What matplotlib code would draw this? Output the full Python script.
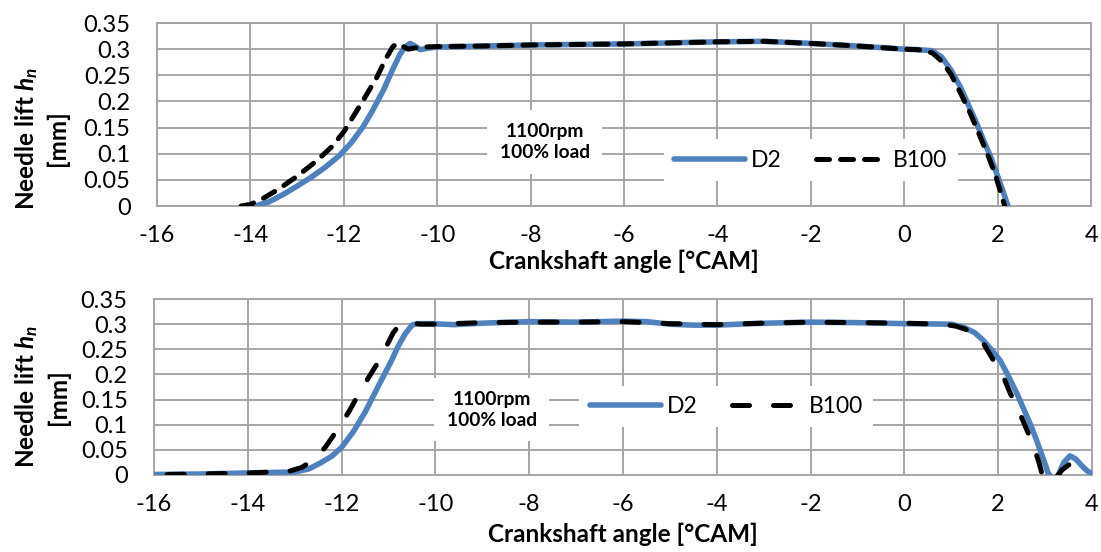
import matplotlib.pyplot as plt

plt.rcParams['font.family'] = ['Lato', 'DejaVu Sans']
plt.rcParams['mathtext.fontset'] = 'custom'
plt.rcParams['mathtext.it'] = 'Lato:bold:italic'
plt.rcParams['mathtext.rm'] = 'Lato:bold'

# --- data ---
# upper chart
top_d2_x = [-13.9, -13.6, -13.3, -13.0, -12.7, -12.4, -12.1, -11.85, -11.6, -11.4, -11.15,
            -10.95, -10.8, -10.68, -10.58, -10.48, -10.36, -10.2, -10.0, -9.0, -8.0, -7.0,
            -6.0, -5.0, -4.0, -3.0, -2.0, -1.0, -0.5, 0.0, 0.3, 0.6, 0.8, 1.0, 1.2, 1.36,
            1.55, 1.7, 1.85, 1.98, 2.1, 2.22]
top_d2_y = [0.0, 0.008, 0.022, 0.038, 0.055, 0.074, 0.096, 0.12, 0.15, 0.18, 0.222,
            0.262, 0.29, 0.305, 0.311, 0.306, 0.299, 0.302, 0.304, 0.306, 0.308, 0.309,
            0.310, 0.312, 0.314, 0.315, 0.311, 0.306, 0.303, 0.300, 0.299, 0.297, 0.285,
            0.26, 0.228, 0.196, 0.158, 0.125, 0.094, 0.062, 0.032, 0.0]
top_b100_x = [-14.2, -14.0, -13.7, -13.4, -13.0, -12.6, -12.25, -12.0, -11.6, -11.3, -11.1,
              -10.95, -10.85, -10.75, -10.62, -10.5, -10.3, -10.0, -9.0, -8.0, -7.0, -6.0,
              -5.0, -4.0, -3.0, -2.0, -1.0, -0.5, 0.0, 0.3, 0.6, 0.8, 1.0, 1.2, 1.4, 1.6,
              1.8, 1.95, 2.05, 2.15]
top_b100_y = [0.0, 0.003, 0.016, 0.032, 0.057, 0.085, 0.114, 0.142, 0.2, 0.245, 0.282,
              0.305, 0.311, 0.306, 0.300, 0.302, 0.304, 0.305, 0.306, 0.308, 0.309, 0.310,
              0.312, 0.314, 0.315, 0.311, 0.306, 0.303, 0.300, 0.299, 0.293, 0.277, 0.252,
              0.217, 0.18, 0.138, 0.095, 0.06, 0.03, 0.0]

# lower chart
bot_d2_x = [-16.0, -15.0, -14.0, -13.5, -13.0, -12.7, -12.45, -12.2, -12.0, -11.75, -11.5,
            -11.2, -10.95, -10.8, -10.65, -10.5, -10.4, -10.1, -9.6, -9.0, -8.0, -7.0,
            -6.0, -5.5, -5.0, -4.5, -4.0, -3.3, -2.5, -2.0, -1.0, 0.0, 1.0, 1.26, 1.5,
            1.68, 1.85, 2.04, 2.2, 2.4, 2.55, 2.68, 2.8, 2.9, 3.0, 3.06, 3.17, 3.28, 3.4,
            3.53, 3.65, 3.81, 3.9, 4.0]
bot_d2_y = [0.001, 0.002, 0.004, 0.005, 0.006, 0.012, 0.024, 0.038, 0.055, 0.086, 0.125,
            0.18, 0.225, 0.255, 0.28, 0.298, 0.301, 0.301, 0.299, 0.302, 0.305, 0.304,
            0.306, 0.305, 0.300, 0.298, 0.298, 0.301, 0.303, 0.304, 0.303, 0.301, 0.300,
            0.294, 0.283, 0.268, 0.25, 0.228, 0.2, 0.162, 0.13, 0.102, 0.074, 0.048,
            0.022, 0.005, -0.01, 0.0, 0.025, 0.038, 0.032, 0.016, 0.008, 0.003]
bot_b100_x = [-15.72, -15.0, -14.0, -13.5, -13.1, -12.85, -12.6, -12.35, -12.09, -11.85,
              -11.66, -11.45, -11.23, -11.05, -10.9, -10.78, -10.68, -10.55, -10.3, -10.0,
              -9.0, -8.0, -7.0, -6.0, -5.0, -4.0, -3.0, -2.0, -1.0, 0.0, 0.8, 1.1, 1.3,
              1.62, 1.9, 2.1, 2.26, 2.45, 2.62, 2.79, 2.87, 2.94, 3.05, 3.2, 3.36, 3.53,
              3.62, 3.72]
bot_b100_y = [0.001, 0.002, 0.004, 0.006, 0.008, 0.015, 0.03, 0.055, 0.09, 0.125, 0.157,
              0.19, 0.223, 0.255, 0.283, 0.297, 0.303, 0.302, 0.300, 0.300, 0.303, 0.304,
              0.304, 0.305, 0.301, 0.299, 0.302, 0.304, 0.303, 0.302, 0.300, 0.296, 0.29,
              0.272, 0.228, 0.198, 0.162, 0.125, 0.088, 0.048, 0.025, 0.0, -0.015, -0.01,
              0.01, 0.022, 0.015, 0.0]

x_ticks = [-16, -14, -12, -10, -8, -6, -4, -2, 0, 2, 4]
y_ticks = [0, 0.05, 0.1, 0.15, 0.2, 0.25, 0.3, 0.35]
y_labels = ['0', '0.05', '0.1', '0.15', '0.2', '0.25', '0.3', '0.35']

BLUE = '#4F81BD'
GRID = '#A6A6A6'

fig = plt.figure(figsize=(11.01, 5.52), dpi=100)
ax1 = fig.add_axes([0.1426, 0.6268, 0.8484, 0.3315])
ax2 = fig.add_axes([0.1399, 0.1395, 0.8519, 0.3188])

# ax, series, dash pattern, text box pos, legend pos, ylabel pos, xlabel y
setups = [
    (ax1, top_d2_x, top_d2_y, top_b100_x, top_b100_y, (2.6, 2.2),
     (0.415, 0.35), (0.70, 0.25), (-0.094, 0.37), -0.24),
    (ax2, bot_d2_x, bot_d2_y, bot_b100_x, bot_b100_y, (3.4, 4.8),
     (0.36, 0.37), (0.61, 0.39), (-0.090, 0.443), -0.27),
]

for ax, dx, dy, bx, by, dash, txt_pos, leg_pos, ylab_pos, xlab_y in setups:
    ax.plot(dx, dy, color=BLUE, lw=4.0, solid_capstyle='round', label='D2', zorder=3)
    ax.plot(bx, by, color='black', lw=3.6, dashes=dash, dash_capstyle='round',
            label='B100', zorder=4)
    ax.set_xlim(-16, 4)
    ax.set_ylim(0, 0.35)
    ax.set_xticks(x_ticks)
    ax.set_xticklabels([str(t) for t in x_ticks])
    ax.set_yticks(y_ticks)
    ax.set_yticklabels(y_labels)
    ax.tick_params(axis='x', length=0, labelsize=17, pad=14)
    ax.tick_params(axis='y', length=0, labelsize=17, pad=19)
    ax.grid(True, color=GRID, lw=1.4, zorder=0)
    ax.set_axisbelow(True)
    for s in ax.spines.values():
        s.set_color(GRID)
        s.set_linewidth(1.4)
    ax.set_xlabel('Crankshaft angle [°CAM]', fontsize=17.5, fontweight='bold')
    ax.xaxis.set_label_coords(0.5, xlab_y)
    ax.set_ylabel('Needle lift $h_n$\n[mm]', fontsize=17.5, fontweight='bold',
                  linespacing=1.3)
    ax.yaxis.set_label_coords(*ylab_pos)
    ax.text(txt_pos[0], txt_pos[1], '1100rpm\n100% load', transform=ax.transAxes,
            ha='center', va='center', fontsize=13.8, fontweight='bold', linespacing=1.3,
            zorder=5, bbox=dict(facecolor='white', edgecolor='none', pad=9))
    leg = ax.legend(loc='center', bbox_to_anchor=leg_pos, ncol=2, fontsize=16.5,
                    frameon=True, facecolor='white', edgecolor='none', fancybox=False,
                    handlelength=3.1, handletextpad=0.25, columnspacing=1.5,
                    borderpad=0.45, framealpha=1)
    leg.set_zorder(6)

fig.savefig('out.png', dpi=100)
